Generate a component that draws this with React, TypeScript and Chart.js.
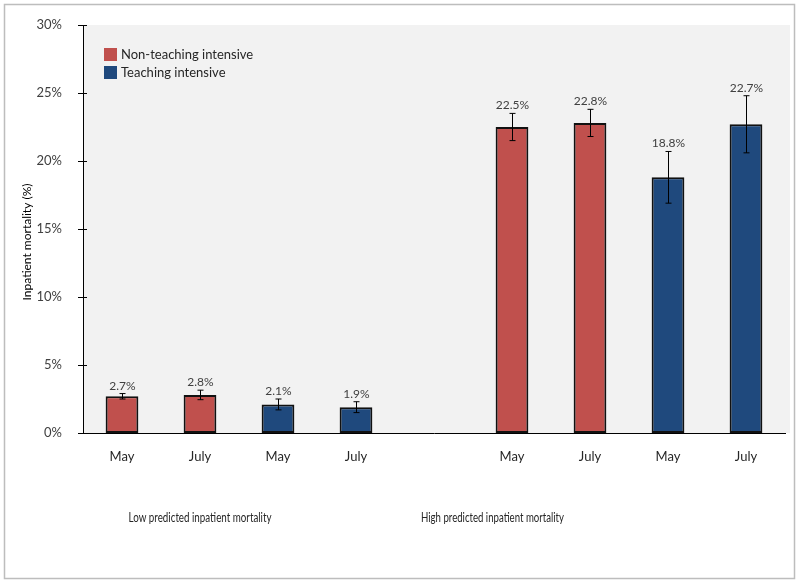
import React, { useEffect, useRef } from 'react';
import { Chart, registerables } from 'chart.js';
Chart.register(...registerables);

const categories = ['May', 'July', 'May', 'July', '', 'May', 'July', 'May', 'July'];
const nonTeaching = [2.7, 2.8, null, null, null, 22.5, 22.8, null, null];
const nonTeachingErr = [0.2, 0.35, null, null, null, 1.0, 1.0, null, null];
const teaching = [null, null, 2.1, 1.9, null, null, null, 18.8, 22.7];
const teachingErr = [null, null, 0.4, 0.4, null, null, null, 1.9, 2.1];
const seriesNames = ['Non-teaching intensive', 'Teaching intensive'];
const groupLabels = ['Low predicted inpatient mortality', 'High predicted inpatient mortality'];
const groupLabelAt = [1, 4.75];
const yTitle = 'Inpatient mortality (%)';
const yMax = 30;
const yStep = 5;

const FONT = 'Lato, "Noto Sans", sans-serif';
const RED = '#c0504d';
const BLUE = '#1f497d';

const decorPlugin = {
  id: 'decor',
  beforeDraw(chart: any) {
    const { ctx, chartArea: a, width, height } = chart;
    ctx.save();
    ctx.fillStyle = '#ffffff';
    ctx.fillRect(0, 0, width, height);
    ctx.fillStyle = '#f2f2f2';
    ctx.fillRect(a.left, a.top, a.right - a.left + 5, a.bottom - a.top);
    ctx.strokeStyle = '#bdbdbd';
    ctx.lineWidth = 1.5;
    ctx.strokeRect(4.5, 4.5, width - 10, height - 10);
    ctx.restore();
  },
  afterDraw(chart: any) {
    const { ctx, chartArea: a, scales } = chart;
    const x = scales.x;
    const y = scales.y;
    ctx.save();
    ctx.strokeStyle = '#000';
    ctx.lineWidth = 1;
    for (let v = 0; v <= yMax; v += yStep) {
      const py = Math.round(y.getPixelForValue(v)) + 0.5;
      ctx.beginPath();
      ctx.moveTo(a.left - 5, py);
      ctx.lineTo(a.left + 4, py);
      ctx.stroke();
    }
    const sets = [
      { vals: nonTeaching, errs: nonTeachingErr },
      { vals: teaching, errs: teachingErr },
    ];
    sets.forEach((s) => {
      s.vals.forEach((v, i) => {
        if (v == null) return;
        const e = s.errs[i] || 0;
        const px = Math.round(x.getPixelForValue(i)) + 0.5;
        const top = y.getPixelForValue(v + e);
        const bot = y.getPixelForValue(v - e);
        ctx.strokeStyle = '#000';
        ctx.lineWidth = 1;
        ctx.beginPath();
        ctx.moveTo(px, top);
        ctx.lineTo(px, bot);
        ctx.moveTo(px - 3, top);
        ctx.lineTo(px + 3, top);
        ctx.moveTo(px - 3, bot);
        ctx.lineTo(px + 3, bot);
        ctx.stroke();
        ctx.fillStyle = '#404040';
        ctx.font = `12px ${FONT}`;
        ctx.textAlign = 'center';
        ctx.textBaseline = 'alphabetic';
        ctx.fillText(v.toFixed(1) + '%', px, top - 4);
      });
    });
    const colors = [RED, BLUE];
    seriesNames.forEach((n, k) => {
      const ly = 48 + k * 18;
      ctx.fillStyle = colors[k];
      ctx.fillRect(104, ly, 13, 13);
      ctx.fillStyle = '#262626';
      ctx.font = `13px ${FONT}`;
      ctx.textAlign = 'left';
      ctx.textBaseline = 'middle';
      ctx.fillText(n, 121, ly + 7);
    });
    ctx.fillStyle = '#262626';
    ctx.font = `12.5px ${FONT}`;
    ctx.textAlign = 'center';
    ctx.textBaseline = 'middle';
    groupLabels.forEach((g, k) => {
      ctx.fillText(g, x.getPixelForValue(groupLabelAt[k]), 518, 143);
    });
    ctx.translate(27, 242);
    ctx.rotate(-Math.PI / 2);
    ctx.font = `12px ${FONT}`;
    ctx.fillStyle = '#000';
    ctx.fillText(yTitle, 0, 0);
    ctx.restore();
  },
};

export default function App() {
  const ref = useRef<HTMLCanvasElement | null>(null);
  useEffect(() => {
    document.body.style.margin = '0';
    const chart = new Chart(ref.current as HTMLCanvasElement, {
      type: 'bar',
      data: {
        labels: categories,
        datasets: [
          {
            label: seriesNames[0],
            data: nonTeaching,
            backgroundColor: RED,
            borderColor: '#111111',
            borderWidth: 2,
            borderSkipped: false,
            barPercentage: 0.42,
            categoryPercentage: 1,
          },
          {
            label: seriesNames[1],
            data: teaching,
            backgroundColor: BLUE,
            borderColor: '#111111',
            borderWidth: 2,
            borderSkipped: false,
            barPercentage: 0.42,
            categoryPercentage: 1,
          },
        ],
      },
      options: {
        responsive: false,
        animation: false,
        layout: { padding: { top: 25, right: 15, left: 0, bottom: 0 } },
        plugins: { legend: { display: false }, tooltip: { enabled: false } },
        scales: {
          x: {
            stacked: true,
            grid: { display: false },
            border: { display: true, color: '#000', width: 1 },
            ticks: { color: '#262626', font: { family: FONT, size: 13 }, padding: 8, maxRotation: 0 },
            afterFit: (s: any) => { s.height = 151; },
          },
          y: {
            min: 0,
            max: yMax,
            grid: { display: false },
            border: { display: true, color: '#000', width: 1 },
            ticks: {
              stepSize: yStep,
              padding: 13,
              color: '#404040',
              font: { family: FONT, size: 13 },
              callback: (v: any) => v + '%',
            },
            afterFit: (s: any) => { s.width = 83; },
          },
        },
      },
      plugins: [decorPlugin],
    } as any);
    return () => chart.destroy();
  }, []);
  return (
    <div style={{ width: 800, height: 584 }}>
      <canvas ref={ref} width={800} height={584} />
    </div>
  );
}
